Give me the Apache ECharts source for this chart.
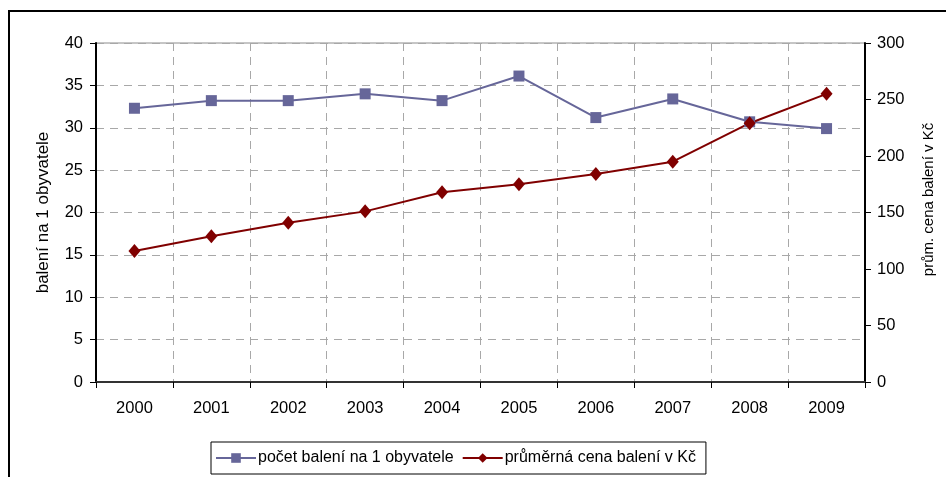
<!DOCTYPE html>
<html>
<head>
<meta charset="utf-8">
<script src="https://cdn.jsdelivr.net/npm/echarts@6/dist/echarts.min.js"></script>
<style>
  html, body { margin: 0; padding: 0; background: #fff; }
  #chart { width: 946px; height: 477px; }
</style>
</head>
<body>
<div id="chart"></div>
<script>
// Years on the category axis
const years = ['2000', '2001', '2002', '2003', '2004', '2005', '2006', '2007', '2008', '2009'];
// Packs per inhabitant (left axis)
const packsPerCapita = [32.3, 33.2, 33.2, 34.0, 33.2, 36.1, 31.2, 33.4, 30.7, 29.9];
// Average pack price in CZK (right axis)
const avgPrice = [116, 129, 141, 151, 168, 175, 184, 195, 229, 255];

const seriesNames = ['počet balení na 1 obyvatele', 'průměrná cena balení v Kč'];

const font = 'Liberation Sans, Arial, sans-serif';
const chart = echarts.init(document.getElementById('chart'));

chart.setOption({
  animation: false,
  backgroundColor: '#fff',
  graphic: [{
    type: 'rect',
    shape: { x: 9, y: 11, width: 980, height: 520 },
    style: { fill: 'none', stroke: '#000', lineWidth: 2 },
    silent: true
  }],
  grid: {
    left: 96, right: 81, top: 43, bottom: 95,
    show: true, borderColor: '#8c8c8c', borderWidth: 1, backgroundColor: 'transparent'
  },
  legend: {
    left: 211, top: 442,
    padding: [8, 10, 8, 4],
    itemGap: 8,
    itemWidth: 40, itemHeight: 12,
    borderColor: '#000', borderWidth: 1,
    textStyle: { fontFamily: font, fontSize: 16, color: '#000', padding: [0, 0, 0, -3] },
    data: seriesNames
  },
  xAxis: {
    type: 'category',
    data: years,
    boundaryGap: true,
    axisLine: { lineStyle: { color: '#333', width: 2 } },
    axisTick: { show: true, length: 6, lineStyle: { color: '#000', width: 1 } },
    axisLabel: { fontFamily: font, fontSize: 16.5, color: '#000', margin: 18 },
    splitLine: { show: true, lineStyle: { color: '#a8a8a8', type: [8, 6], width: 1 } }
  },
  yAxis: [{
    type: 'value',
    min: 0, max: 40, interval: 5,
    name: 'balení na 1 obyvatele',
    nameLocation: 'middle',
    nameGap: 44,
    nameRotate: 90,
    nameTextStyle: { fontFamily: font, fontSize: 17, color: '#000' },
    axisLine: { show: true, lineStyle: { color: '#000', width: 2 } },
    axisTick: { show: true, length: 6, lineStyle: { color: '#000' } },
    axisLabel: { fontFamily: font, fontSize: 16.5, color: '#000', margin: 13 },
    splitLine: { show: true, lineStyle: { color: '#a8a8a8', type: [8, 6], width: 1 } }
  }, {
    type: 'value',
    min: 0, max: 300, interval: 50,
    name: 'prům. cena balení v Kč',
    nameLocation: 'middle',
    nameGap: 56,
    nameRotate: 90,
    nameTextStyle: { fontFamily: font, fontSize: 15, color: '#000', padding: [0, 0, 0, 26] },
    position: 'right',
    axisLine: { show: true, lineStyle: { color: '#000', width: 2 } },
    axisTick: { show: true, length: 6, lineStyle: { color: '#000' } },
    axisLabel: { fontFamily: font, fontSize: 16.5, color: '#000', margin: 12 },
    splitLine: { show: false }
  }],
  series: [{
    name: seriesNames[0],
    type: 'line',
    yAxisIndex: 0,
    data: packsPerCapita,
    symbol: 'rect',
    symbolSize: 11,
    color: '#666699',
    lineStyle: { color: '#666699', width: 2 },
    itemStyle: { color: '#666699' }
  }, {
    name: seriesNames[1],
    type: 'line',
    yAxisIndex: 1,
    data: avgPrice,
    symbol: 'diamond',
    symbolSize: [12, 14],
    color: '#800000',
    lineStyle: { color: '#800000', width: 2 },
    itemStyle: { color: '#800000' }
  }]
});
</script>
</body>
</html>
